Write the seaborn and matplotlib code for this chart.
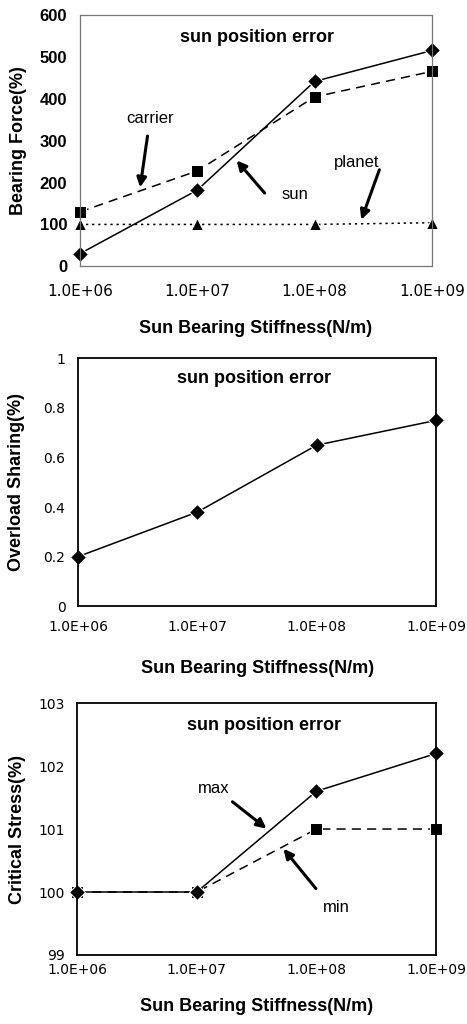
import pandas as pd
import matplotlib.pyplot as plt
import seaborn as sns

# sun bearing stiffness (N/m)
stiffness = [1e6, 1e7, 1e8, 1e9]
tick_labels = ['1.0E+06', '1.0E+07', '1.0E+08', '1.0E+09']

# bearing force (%)
force_sun = [30, 182, 442, 516]
force_carrier = [130, 228, 405, 466]
force_planet = [100, 100, 100, 104]

# overload sharing
overload = [0.2, 0.38, 0.65, 0.75]

# critical stress (%)
stress_max = [100, 100, 101.6, 102.2]
stress_min = [100, 100, 101, 101]

sns.set_theme(style='white', rc={'text.color': 'black', 'axes.labelcolor': 'black'})
plt.rcParams['font.family'] = ['Liberation Sans', 'DejaVu Sans']
tickfont = ['DejaVu Sans']

fig = plt.figure(figsize=(4.67, 10.24), dpi=100)
ax1 = fig.add_axes([0.171, 0.740, 0.754, 0.245])
ax2 = fig.add_axes([0.167, 0.408, 0.767, 0.242])
ax3 = fig.add_axes([0.165, 0.0674, 0.769, 0.246])

xlab = 'Sun Bearing Stiffness(N/m)'
arrow = dict(arrowstyle='-|>', color='black', lw=2.2, mutation_scale=14)
lab_kw = dict(fontsize=13, fontweight='bold')

# --- panel 1: bearing force
df1 = pd.DataFrame({'x': stiffness, 'sun': force_sun,
                    'carrier': force_carrier, 'planet': force_planet})
sns.lineplot(data=df1, x='x', y='sun', ax=ax1, color='black', lw=1.1,
             marker='D', markersize=8, clip_on=False)
sns.lineplot(data=df1, x='x', y='carrier', ax=ax1, color='black', lw=1.1,
             linestyle=(0, (6, 4)), marker='s', markersize=8.5, clip_on=False)
sns.lineplot(data=df1, x='x', y='planet', ax=ax1, color='black', lw=1.1,
             linestyle=(0, (1.5, 2.5)), marker='^', markersize=9, clip_on=False)
ax1.set_ylim(0, 600)
ax1.set_yticks([0, 100, 200, 300, 400, 500, 600])
for s in ax1.spines.values():
    s.set_linestyle((0, (1, 1)))
    s.set_color('#777777')
    s.set_linewidth(0.9)
ax1.text(10**7.51, 548, 'sun position error', ha='center', va='center',
         fontsize=13, fontweight='bold')
ax1.annotate('', xy=(10**6.51, 182), xytext=(10**6.58, 318), arrowprops=arrow)
ax1.text(10**6.60, 354, 'carrier', ha='center', va='center', fontsize=12)
ax1.annotate('', xy=(10**7.32, 258), xytext=(10**7.59, 170), arrowprops=arrow)
ax1.text(10**7.83, 172, 'sun', ha='center', va='center', fontsize=12)
ax1.annotate('', xy=(10**8.39, 105), xytext=(10**8.56, 237), arrowprops=arrow)
ax1.text(10**8.36, 248, 'planet', ha='center', va='center', fontsize=12)

# --- panel 2: overload sharing
df2 = pd.DataFrame({'x': stiffness, 'share': overload})
sns.lineplot(data=df2, x='x', y='share', ax=ax2, color='black', lw=1.1,
             marker='D', markersize=8.5, clip_on=False)
ax2.set_ylim(0, 1)
ax2.set_yticks([0, 0.2, 0.4, 0.6, 0.8, 1])
ax2.set_yticklabels(['0', '0.2', '0.4', '0.6', '0.8', '1'])
ax2.text(10**7.47, 0.92, 'sun position error', ha='center', va='center',
         fontsize=13, fontweight='bold')

# --- panel 3: critical stress
df3 = pd.DataFrame({'x': stiffness, 'max': stress_max, 'min': stress_min})
sns.lineplot(data=df3, x='x', y='min', ax=ax3, color='black', lw=1.1,
             linestyle=(0, (6, 4)), marker='s', markersize=8.5, clip_on=False)
sns.lineplot(data=df3, x='x', y='max', ax=ax3, color='black', lw=1.1,
             marker='D', markersize=8, clip_on=False)
ax3.set_ylim(99, 103)
ax3.set_yticks([99, 100, 101, 102, 103])
ax3.text(10**7.56, 102.65, 'sun position error', ha='center', va='center',
         fontsize=13, fontweight='bold')
ax3.annotate('', xy=(10**7.60, 100.98), xytext=(10**7.28, 101.46), arrowprops=arrow)
ax3.text(10**7.14, 101.64, 'max', ha='center', va='center', fontsize=12)
ax3.annotate('', xy=(10**7.71, 100.72), xytext=(10**8.01, 100.02), arrowprops=arrow)
ax3.text(10**8.17, 99.76, 'min', ha='center', va='center', fontsize=12)

ylabels = ['Bearing Force(%)', 'Overload Sharing(%)', 'Critical Stress(%)']
ylab_x = [-0.175, -0.172, -0.165]
xlab_y = [-0.247, -0.25, -0.206]
xpads = [13, 10, 6]
for ax, yl, yx, xy, pad in zip([ax1, ax2, ax3], ylabels, ylab_x, xlab_y, xpads):
    ax.set_xscale('log')
    ax.set_xlim(1e6, 1e9)
    ax.set_xticks(stiffness)
    ax.set_xticklabels(tick_labels)
    ax.minorticks_off()
    ax.tick_params(axis='x', length=0, pad=pad, colors='black')
    ax.tick_params(axis='y', length=0, pad=9, colors='black')
    ax.set_xlabel(xlab, va='center', **lab_kw)
    ax.xaxis.set_label_coords(0.5, xy)
    ax.set_ylabel(yl, va='center', **lab_kw)
    ax.yaxis.set_label_coords(yx, 0.5)
    for lab in ax.get_xticklabels():
        lab.set_family(tickfont)
        lab.set_fontsize(11 if ax is ax1 else 10)
    for lab in ax.get_yticklabels():
        if ax is ax1:
            lab.set_fontsize(12)
            lab.set_fontweight('bold')
        else:
            lab.set_family(tickfont)
            lab.set_fontsize(10)
    if ax is not ax1:
        for s in ax.spines.values():
            s.set_color('black')
            s.set_linewidth(1.3)

fig.savefig('out.png', dpi=100, facecolor='white')
